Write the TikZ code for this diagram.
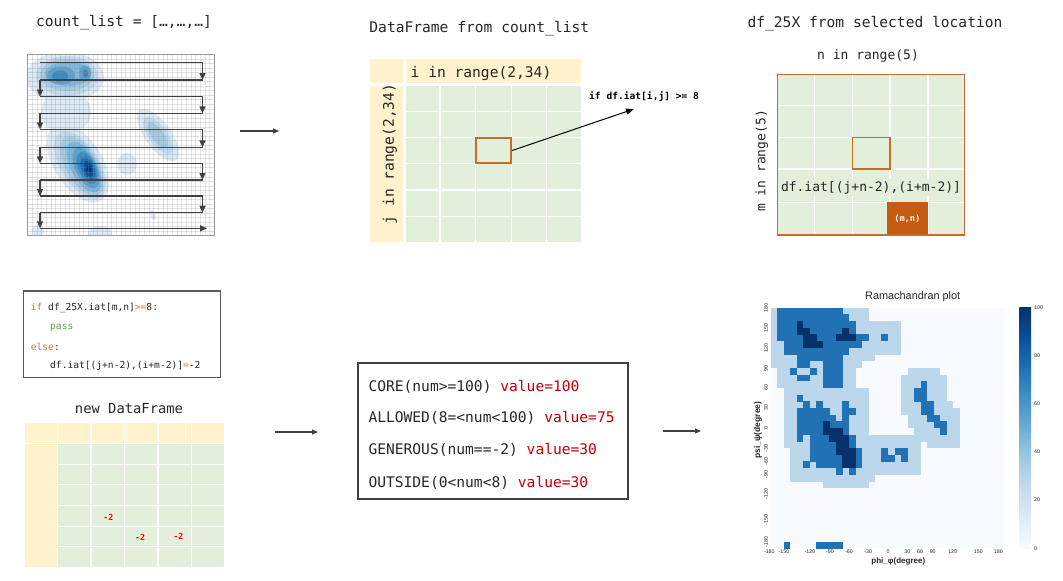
\documentclass[tikz,border=0pt]{standalone}
\usepackage{fontspec}
\setmainfont{Liberation Sans}
\setsansfont{Liberation Sans}
\setmonofont{DejaVu Sans Mono}
\usetikzlibrary{arrows.meta}
\definecolor{ylw}{HTML}{FFF2CC}
\definecolor{grn}{HTML}{E2EFDA}
\definecolor{org}{HTML}{C55A11}
\definecolor{orgl}{HTML}{CC6A2C}
\definecolor{txt}{HTML}{262626}
\definecolor{kw}{HTML}{CC7832}
\definecolor{kgreen}{HTML}{5E9E3C}
\definecolor{vred}{HTML}{C00000}
\definecolor{dgray}{HTML}{404040}
\definecolor{bgray}{HTML}{595959}
\definecolor{hbg}{HTML}{F7FBFF}
\definecolor{hlt}{HTML}{BCD7EC}
\definecolor{hmd}{HTML}{2171B5}
\definecolor{hdk}{HTML}{08306B}
\definecolor{k1}{HTML}{DCE9F6}
\definecolor{k2}{HTML}{C3DAEE}
\definecolor{k3}{HTML}{A3CCE3}
\definecolor{k4}{HTML}{7EB8DA}
\definecolor{k5}{HTML}{5AA2CF}
\definecolor{k6}{HTML}{3888C1}
\definecolor{k7}{HTML}{1E6CB0}
\definecolor{k8}{HTML}{0B4F97}
\definecolor{k9}{HTML}{08306B}
\definecolor{b0}{HTML}{F7FBFF}
\definecolor{b1}{HTML}{DEEBF7}
\definecolor{b2}{HTML}{C6DBEF}
\definecolor{b3}{HTML}{9ECAE1}
\definecolor{b4}{HTML}{6BAED6}
\definecolor{b5}{HTML}{4292C6}
\definecolor{b6}{HTML}{2171B5}
\definecolor{b7}{HTML}{08519C}
\definecolor{b8}{HTML}{08306B}
\pgfdeclareverticalshading{bluesbar}{100bp}{color(0bp)=(b0); color(25bp)=(b0); color(31.25bp)=(b1); color(37.5bp)=(b2); color(43.75bp)=(b3); color(50bp)=(b4); color(56.25bp)=(b5); color(62.5bp)=(b6); color(68.75bp)=(b7); color(75bp)=(b8); color(100bp)=(b8)}
\tikzset{
  ttl/.style={font=\fontsize{14.6}{16}\selectfont\ttfamily, text=txt, inner sep=0},
  mid/.style={font=\fontsize{13}{15}\selectfont\ttfamily, text=txt, inner sep=0},
  code/.style={font=\fontsize{9.6}{11}\selectfont\ttfamily, text=txt, inner sep=0, anchor=west},
  rule/.style={font=\fontsize{14.6}{16}\selectfont\ttfamily, text=txt, inner sep=0, anchor=west},
  flow/.style={draw=dgray, line width=1.2, -{Triangle[length=6pt,width=5pt]}},
  snake/.style={draw=dgray, line width=1.4},
  snakea/.style={draw=dgray, line width=1.4, -{Triangle[length=7pt,width=6pt]}},
  tick/.style={font=\fontsize{5.3}{6}\selectfont, text=txt, inner sep=0},
  wline/.style={draw=white, line width=1.2},
  minus2/.style={font=\fontsize{8.3}{9}\selectfont\ttfamily\bfseries, text=red, inner sep=0}
}
\begin{document}
\begin{tikzpicture}[x=1pt,y=-1pt]
\useasboundingbox (0,0) rectangle (1063,581);

% ---------- panel 1: count_list ----------
\node[ttl] (t1) at (124,23) {count\_list = […,…,…]};
\begin{scope}
\clip (27.7,54.3) rectangle (214,235.7);
\fill[white] (27.7,54.3) rectangle (214,235.7);
% outer light regions
\fill[k1] (65,77) ellipse [x radius=39, y radius=25];
\fill[k1] (66,112) ellipse [x radius=25, y radius=22];
\fill[k1, rotate around={-58:(78,163)}] (78,163) ellipse [x radius=44, y radius=24];
% top blob
\fill[k2] (67,76) ellipse [x radius=31, y radius=20];
\fill[k3] (67,75) ellipse [x radius=27, y radius=16];
\fill[k4] (68,74) ellipse [x radius=23, y radius=12];
\fill[k5] (61,75.5) ellipse [x radius=14, y radius=9];
\fill[k5] (85,73.5) ellipse [x radius=6, y radius=8];
\fill[k6] (60,76) ellipse [x radius=8, y radius=5.5];
\fill[k6] (85.5,73.5) ellipse [x radius=3, y radius=4];
% middle blob
\fill[k2, rotate around={-58:(80,165)}] (80,165) ellipse [x radius=38, y radius=19];
\fill[k3, rotate around={-60:(82,166)}] (82,166) ellipse [x radius=33, y radius=16];
\fill[k4, rotate around={-62:(84,167)}] (84,167) ellipse [x radius=28, y radius=13];
\fill[k5, rotate around={-64:(86,168)}] (86,168) ellipse [x radius=22, y radius=10.5];
\fill[k6, rotate around={-66:(87,168)}] (87,168) ellipse [x radius=17, y radius=8.5];
\fill[k7, rotate around={-68:(88,168.5)}] (88,168.5) ellipse [x radius=12, y radius=6.5];
\fill[k8, rotate around={-70:(88.5,169)}] (88.5,169) ellipse [x radius=8, y radius=4.5];
\fill[k9, rotate around={-70:(89,169)}] (89,169) ellipse [x radius=4, y radius=2.5];
% right blob
\fill[k1, rotate around={-54:(158,135)}] (158,135) ellipse [x radius=31, y radius=13];
\fill[k2, rotate around={-54:(158,135.5)}] (158,135.5) ellipse [x radius=22, y radius=9];
\fill[k3, rotate around={-54:(157.5,135)}] (157.5,135) ellipse [x radius=15, y radius=6];
% small blobs
\fill[k1] (127,164) ellipse [x radius=10, y radius=11];
\fill[k1, rotate around={-70:(153,215)}] (153,215) ellipse [x radius=5.5, y radius=2.5];
\fill[k1] (100,234) ellipse [x radius=12, y radius=8];
\fill[k1] (38,231) ellipse [x radius=6, y radius=6];
% grid
\foreach \i in {1,...,39} {
  \draw[black!45, opacity=0.25, line width=0.4] ({27.7+\i*4.66},54.3) -- ({27.7+\i*4.66},235.7);
  \draw[black!45, opacity=0.25, line width=0.4] (27.7,{54.3+\i*4.535}) -- (214,{54.3+\i*4.535});
}
\end{scope}
\node[draw=black!40, line width=0.8, minimum width=186.3, minimum height=181.4, inner sep=0] (clbox) at (120.85,145) {};
% serpentine arrows
\foreach \ya/\yb [count=\k] in {62.3/80, 96.7/113.3, 129.3/147.3, 163.3/180, 196/212.7} {
  \draw[snake] (40,\ya) -- (202.5,\ya);
  \draw[snakea] (202.5,\ya) -- (202.5,\yb);
}
\foreach \ya/\yb [count=\k] in {80/96.7, 113.3/129.3, 147.3/163.3, 180/196, 212.7/228.3} {
  \draw[snake] (202.5,\ya) -- (40,\ya);
  \draw[snakea] (40,\ya) -- (40,\yb);
}
\draw[snakea] (40,228.3) -- (207,228.3);

% arrow panel1 -> panel2
\coordinate (f1s) at (240,131);
\coordinate (f1e) at (279,131);
\draw[flow] (f1s) -- (f1e);

% ---------- panel 2: DataFrame ----------
\node[ttl] (t2) at (479.3,28.3) {DataFrame from count\_list};
\fill[ylw] (370,59.3) rectangle (581,82.7);
\fill[ylw] (370,85.5) rectangle (403.3,241.7);
\fill[grn] (405.5,85.5) rectangle (581,241.7);
\draw[wline, line width=2.2] (404.4,59.3) -- (404.4,82.7);
\foreach \x in {440,475.7,511.3,546.7} \draw[wline] (\x,85.5) -- (\x,241.7);
\foreach \y in {111.7,137.7,163.3,190,216.7} \draw[wline] (405.5,\y) -- (581,\y);
\node[ttl] (ih) at (481,73.3) {i in range(2,34)};
\node[ttl, rotate=90] (jh) at (390,154) {j in range(2,34)};
\node[draw=orgl, line width=1.7, minimum width=35.6, minimum height=25.6, inner sep=0] (sel) at (493.5,150.5) {};
\coordinate (cond) at (634,109);
\draw[line width=1, -{Triangle[length=8pt,width=6pt]}] (sel.east) -- (cond);
\node[font=\fontsize{9.6}{11}\selectfont\ttfamily\bfseries, inner sep=0, anchor=west] (condl) at (589,96.5) {if df.iat[i,j] >= 8};

% ---------- panel 3: df_25X ----------
\node[ttl] (t3) at (875,24) {df\_25X from selected location};
\node[mid] (nh) at (868,56) {n in range(5)};
\fill[grn] (777.3,74.3) rectangle (964.3,235);
\foreach \x in {814.3,852.3,890,928} \draw[wline] (\x,74.3) -- (\x,235);
\foreach \y in {105.7,137.3,169,202.3} \draw[wline] (777.3,\y) -- (964.3,\y);
\node[fill=org, minimum width=41.3, minimum height=32.7, inner sep=0, text=white, font=\fontsize{8.7}{10}\selectfont\ttfamily\bfseries] (mn) at (907.35,218.65) {(m,n)};
\node[draw=orgl, line width=1.5, minimum width=37.2, minimum height=31.2, inner sep=0] (ctr) at (871.15,153.15) {};
\node[fill=grn, inner xsep=1, inner ysep=2, font=\fontsize{13}{15}\selectfont\ttfamily, text=txt] (iat) at (871,187.5) {df.iat[(j+n-2),(i+m-2)]};
\node[draw=orgl, line width=1.2, minimum width=187, minimum height=160.7, inner sep=0] (dfbox) at (870.8,154.65) {};
\node[mid, rotate=90] (mh) at (761.7,161) {m in range(5)};

% ---------- code box ----------
\node[draw=bgray, line width=1.5, minimum width=197.4, minimum height=86.3, inner sep=0] (codebox) at (122,334.15) {};
\node[code] (c1) at (30.7,308.3) {\textcolor{kw}{if} df\_25X.iat[m,n]\textcolor{kw}{>=}8:};
\node[code] (c2) at (50,328.3) {\textcolor{kgreen}{pass}};
\node[code] (c3) at (30.7,346.7) {\textcolor{kw}{else}:};
\node[code] (c4) at (50,366) {df.iat[(j+n-2),(i+m-2)]\textcolor{kw}{=}-2};

% ---------- new DataFrame ----------
\node[font=\fontsize{13.8}{15}\selectfont\ttfamily, text=txt, inner sep=0] (t4) at (129,409) {new DataFrame};
\fill[ylw] (25,423.3) rectangle (224.3,442.5);
\fill[ylw] (25,444.3) rectangle (56.5,566.7);
\fill[grn] (58,444.3) rectangle (224.3,566.7);
\foreach \x in {57.3,91,124.3,158,191.7} {
  \draw[wline] (\x,423.3) -- (\x,442.5);
  \draw[wline] (\x,444.3) -- (\x,566.7);
}
\foreach \y in {464.3,484.3,505.7,526.7,546.7} \draw[wline] (58,\y) -- (224.3,\y);
\node[minus2] (m2a) at (108.3,517.3) {-2};
\node[minus2] (m2b) at (140,537.7) {-2};
\node[minus2] (m2c) at (178.3,536.7) {-2};

\coordinate (f2s) at (275,432);
\coordinate (f2e) at (318,432);
\draw[flow] (f2s) -- (f2e);

% ---------- rules box ----------
\node[draw=dgray, line width=2, minimum width=270, minimum height=135.7, inner sep=0] (rules) at (493.3,431.15) {};
\node[rule] (r1) at (368.3,387.3) {CORE(num>=100) \textcolor{vred}{value=100}};
\node[rule] (r2) at (368.3,418.3) {ALLOWED(8=<num<100) \textcolor{vred}{value=75}};
\node[rule] (r3) at (368.3,450) {GENEROUS(num==-2) \textcolor{vred}{value=30}};
\node[rule] (r4) at (368.3,483.3) {OUTSIDE(0<num<8) \textcolor{vred}{value=30}};

\coordinate (f3s) at (663,431);
\coordinate (f3e) at (701,431);
\draw[flow] (f3s) -- (f3e);

% ---------- Ramachandran plot ----------
\node[font=\fontsize{10.9}{12}\selectfont, text=txt, inner sep=0] (rt) at (912.7,296.7) {Ramachandran plot};
\fill[hbg] (770.7,307.7) rectangle (1005.3,548.4);
\foreach \r/\a/\b in {0/0/14,1/0/14,2/0/19,3/0/19,4/0/19,5/0/19,6/0/19,7/0/15,8/0/13,9/1/12,10/1/12,11/1/12,12/2/14,13/2/14,14/2/14,15/2/14,16/2/14,17/2/14,18/2/14,19/2/28,20/2/22,20/24/28,21/3/22,22/3/22,23/3/22,24/3/22,25/3/15,26/8/14,9/21/25,10/20/26,11/20/26,12/20/26,13/20/26,14/20/27,15/20/28,16/21/28,17/21/28,18/22/28}
  \fill[hlt] ({770.7+\a*6.517},{307.7+\r*6.686}) rectangle ({770.7+(\b+1)*6.517+0.2},{307.7+(\r+1)*6.686+0.2});
\foreach \r/\a/\b in {0/1/10,1/1/11,2/1/12,3/1/12,4/1/14,4/17/17,5/2/13,6/2/11,7/4/10,8/4/5,8/8/10,9/3/3,9/6/6,9/8/10,10/4/5,10/8/10,11/8/10,11/23/23,12/22/23,13/4/4,13/22/23,14/5/5,14/7/7,14/11/11,14/23/24,15/4/8,15/11/12,15/23/24,16/4/9,16/11/11,16/24/25,17/4/7,17/9/11,17/25/26,18/4/7,18/11/11,18/26/26,19/4/4,19/6/8,19/12/12,20/6/9,20/12/12,21/6/9,21/13/13,21/17/17,21/19/20,22/6/10,22/13/13,22/17/18,22/20/20,23/5/5,23/7/10,23/13/13,24/10/10,24/12/12,35/2/2,35/7/10}
  \fill[hmd] ({770.7+\a*6.517},{307.7+\r*6.686}) rectangle ({770.7+(\b+1)*6.517+0.2},{307.7+(\r+1)*6.686+0.2});
\foreach \r/\a/\b in {2/4/4,3/4/5,3/11/11,4/5/6,4/10/12,5/5/7,17/8/8,18/8/10,19/9/11,20/10/11,21/10/12,22/11/12,23/11/12}
  \fill[hdk] ({770.7+\a*6.517},{307.7+\r*6.686}) rectangle ({770.7+(\b+1)*6.517+0.2},{307.7+(\r+1)*6.686+0.2});
% ticks
\foreach \v/\x [count=\k] in {-180/769.3,-150/784,-120/810,-90/830,-60/849,-30/868.3,0/888,30/907.3,60/920,90/932.7,120/952.7,150/978.3,180/998.3}
  \node[tick] (xt\k) at (\x,551.7) {\v};
\foreach \v/\y [count=\k] in {180/307.7,150/327.7,120/347.7,90/368.3,60/387.7,30/407.7,0/428.3,-30/448.3,-60/461.7,-90/474.3,-120/494.3,-150/520,-180/541.7}
  \node[tick, rotate=90] (yt\k) at (766,\y) {\v};
\node[font=\fontsize{8}{9}\selectfont\bfseries, text=txt, inner sep=0] (xl) at (898.3,561.7) {phi\_φ(degree)};
\node[font=\fontsize{8.5}{9}\selectfont\bfseries, text=txt, inner sep=0, rotate=90] (yl) at (758,430) {psi\_ψ(degree)};
% colorbar
\shade[shading=bluesbar] (1019.3,307.7) rectangle (1031,548.3);
\foreach \v/\y [count=\k] in {100/307.7,80/355.8,60/403.9,40/452,20/500.1,0/548.3}
  \node[tick, anchor=west] (cb\k) at (1034,\y) {\v};
\end{tikzpicture}
\end{document}
